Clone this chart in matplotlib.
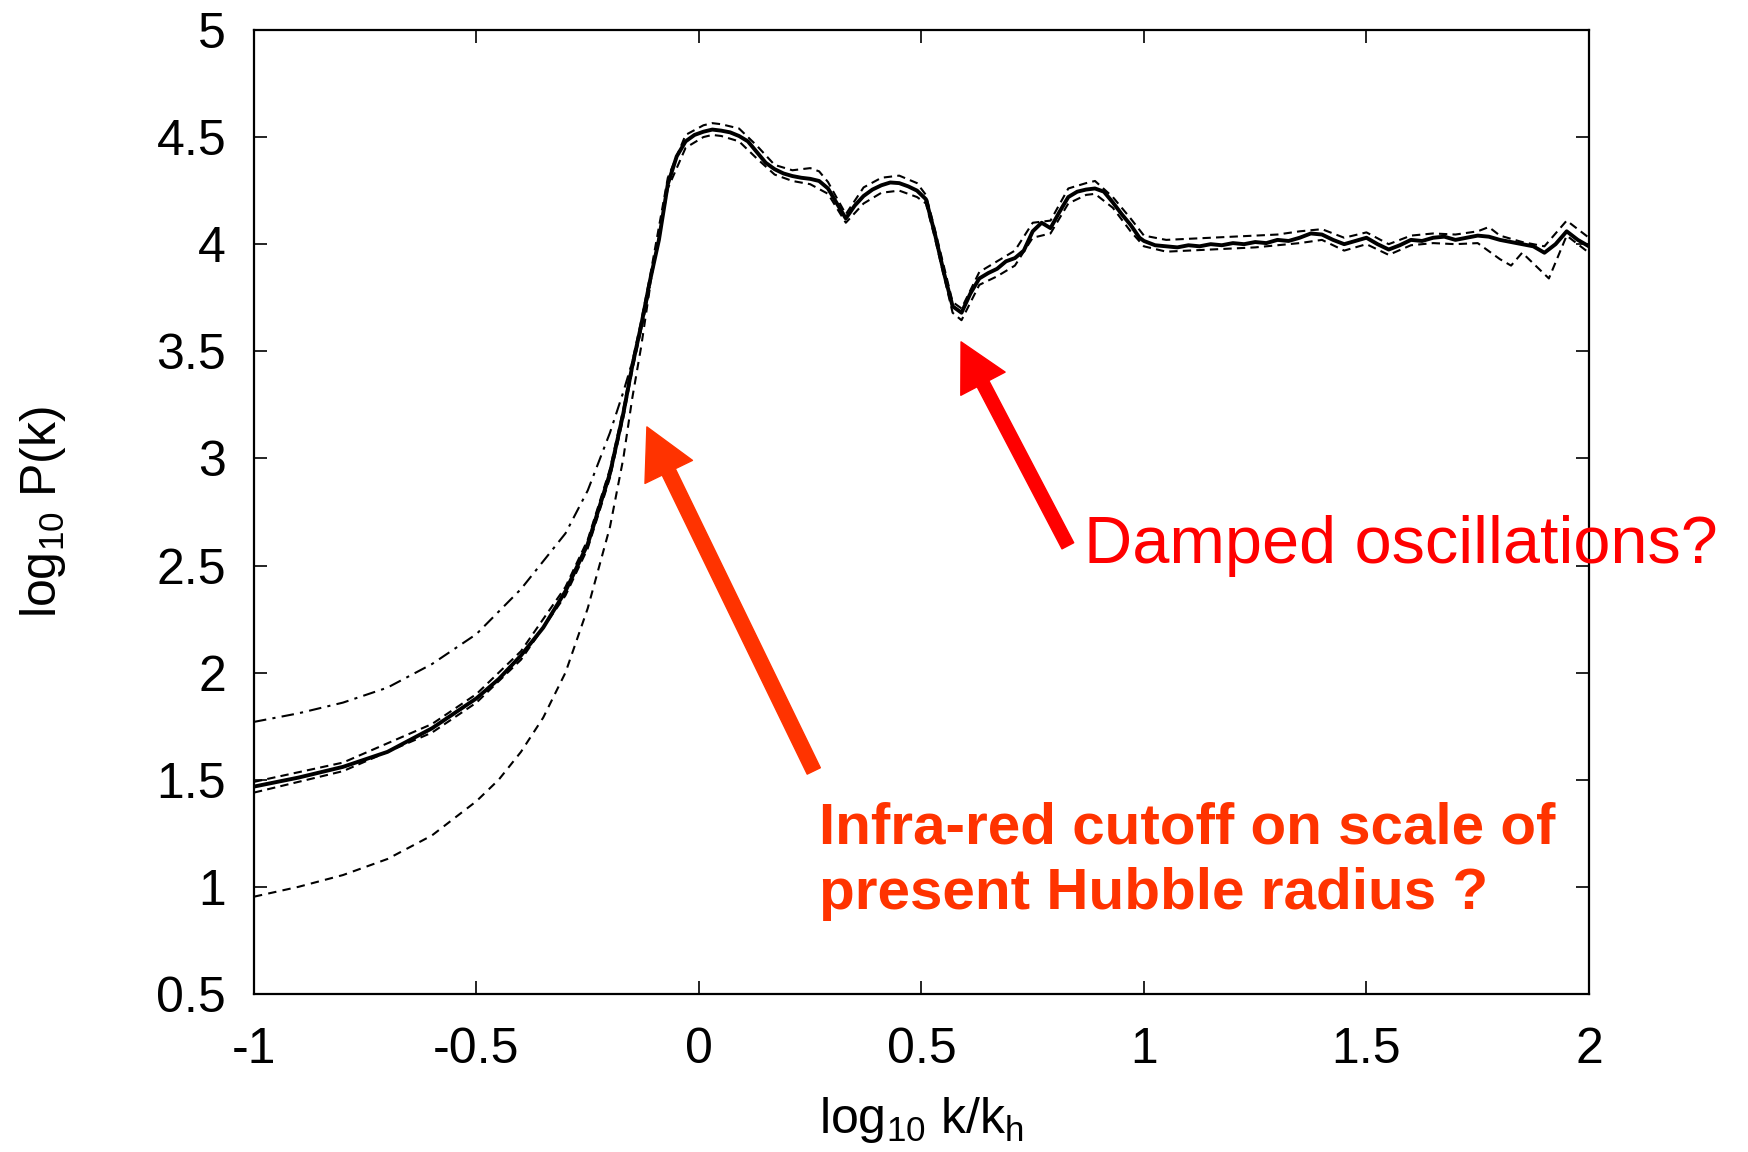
import matplotlib
matplotlib.use("Agg")
import matplotlib.pyplot as plt
from matplotlib.patches import FancyArrowPatch

plt.rcParams['font.family'] = ['Liberation Sans', 'DejaVu Sans']
plt.rcParams['mathtext.default'] = 'regular'

# ---------------- data ----------------
x_main = [-1.0, -0.9, -0.8, -0.7, -0.6, -0.5, -0.45, -0.4, -0.35, -0.3, -0.25, -0.2,
          -0.17, -0.15, -0.13, -0.11, -0.09, -0.07, -0.05, -0.03, -0.01,
          0.01, 0.03, 0.05, 0.07, 0.09, 0.11, 0.13, 0.15, 0.17, 0.19,
          0.21, 0.23, 0.25, 0.27, 0.29, 0.31, 0.33, 0.35, 0.37, 0.39,
          0.41, 0.43, 0.45, 0.47, 0.49, 0.51, 0.53, 0.55, 0.57, 0.59,
          0.61, 0.63, 0.65, 0.67, 0.69, 0.71, 0.73, 0.75, 0.77, 0.79,
          0.81, 0.83, 0.85, 0.87, 0.89, 0.91, 0.93, 0.95, 0.97, 0.99,
          1.0, 1.025, 1.05, 1.075, 1.1, 1.125, 1.15, 1.175, 1.2, 1.225,
          1.25, 1.275, 1.3, 1.325, 1.35, 1.375, 1.4, 1.425, 1.45, 1.475,
          1.5, 1.525, 1.55, 1.575, 1.6, 1.625, 1.65, 1.675, 1.7, 1.725,
          1.75, 1.775, 1.8, 1.825, 1.85, 1.875, 1.9, 1.925, 1.95, 1.975, 2.0]
y_main = [1.468, 1.51, 1.56, 1.63, 1.74, 1.88, 1.97, 2.08, 2.21, 2.38, 2.60, 2.93,
          3.21, 3.43, 3.62, 3.83, 4.02, 4.28, 4.41, 4.48, 4.51,
          4.525, 4.535, 4.53, 4.522, 4.505, 4.48, 4.43, 4.38, 4.35, 4.33,
          4.318, 4.31, 4.305, 4.295, 4.26, 4.19, 4.12, 4.18, 4.225, 4.255,
          4.275, 4.288, 4.285, 4.27, 4.25, 4.21, 4.05, 3.87, 3.71, 3.68,
          3.77, 3.84, 3.865, 3.885, 3.92, 3.935, 3.97, 4.06, 4.10, 4.075,
          4.15, 4.22, 4.245, 4.255, 4.26, 4.245, 4.195, 4.14, 4.09, 4.03,
          4.015, 3.995, 3.99, 3.985, 3.995, 3.99, 4.0, 3.995, 4.005, 4.0,
          4.01, 4.005, 4.02, 4.015, 4.03, 4.05, 4.045, 4.02, 4.0, 4.015,
          4.03, 4.0, 3.975, 3.995, 4.02, 4.015, 4.03, 4.035, 4.02, 4.03,
          4.04, 4.035, 4.02, 4.01, 4.0, 3.99, 3.96, 4.0, 4.06, 4.02, 3.99]

x_hi = [-1.0, -0.8, -0.6, -0.5, -0.4, -0.3, -0.25, -0.2, -0.17, -0.15, -0.13, -0.11, -0.07, -0.03,
        0.01, 0.03, 0.05, 0.09, 0.13, 0.17, 0.21, 0.25, 0.27, 0.29, 0.33, 0.37,
        0.41, 0.45, 0.49, 0.51, 0.53, 0.57, 0.59, 0.63, 0.67, 0.71, 0.75, 0.79,
        0.83, 0.87, 0.89, 0.93, 0.97, 1.0, 1.05, 1.1, 1.15, 1.2, 1.25, 1.3,
        1.35, 1.4, 1.45, 1.5, 1.55, 1.6, 1.65, 1.7, 1.75, 1.775, 1.8, 1.85,
        1.9, 1.95, 2.0]
y_hi = [1.49, 1.58, 1.76, 1.90, 2.10, 2.40, 2.62, 2.95, 3.23, 3.45, 3.64, 3.85, 4.31, 4.51,
        4.555, 4.565, 4.56, 4.54, 4.46, 4.37, 4.345, 4.355, 4.34, 4.29, 4.14, 4.265,
        4.31, 4.32, 4.285, 4.23, 4.07, 3.73, 3.70, 3.87, 3.92, 3.97, 4.10, 4.11,
        4.26, 4.285, 4.295, 4.22, 4.12, 4.04, 4.02, 4.025, 4.03, 4.035, 4.04, 4.045,
        4.06, 4.07, 4.03, 4.055, 4.0, 4.04, 4.05, 4.045, 4.06, 4.08, 4.04, 4.01,
        3.99, 4.11, 4.03]

x_lo = [-1.0, -0.8, -0.6, -0.5, -0.4, -0.3, -0.25, -0.2, -0.17, -0.15, -0.13, -0.11, -0.07, -0.03,
        0.01, 0.03, 0.05, 0.09, 0.13, 0.17, 0.21, 0.25, 0.29, 0.33, 0.37, 0.41,
        0.45, 0.49, 0.51, 0.53, 0.57, 0.59, 0.63, 0.67, 0.71, 0.75, 0.79, 0.83,
        0.87, 0.89, 0.93, 0.97, 1.0, 1.05, 1.1, 1.15, 1.2, 1.25, 1.3, 1.35,
        1.4, 1.45, 1.5, 1.55, 1.6, 1.65, 1.7, 1.75, 1.8, 1.825, 1.85, 1.9,
        1.91, 1.95, 2.0]
y_lo = [1.44, 1.54, 1.72, 1.86, 2.06, 2.36, 2.58, 2.91, 3.19, 3.41, 3.60, 3.81, 4.26, 4.45,
        4.50, 4.51, 4.505, 4.48, 4.40, 4.325, 4.295, 4.28, 4.235, 4.10, 4.19, 4.24,
        4.25, 4.22, 4.19, 4.03, 3.68, 3.645, 3.81, 3.85, 3.90, 4.03, 4.05, 4.19,
        4.23, 4.235, 4.17, 4.06, 3.99, 3.965, 3.97, 3.975, 3.98, 3.985, 3.995, 4.005,
        4.02, 3.97, 4.0, 3.95, 3.995, 4.005, 4.0, 4.005, 3.93, 3.90, 3.96, 3.86,
        3.84, 4.04, 3.96]

x_up = [-1.0, -0.9, -0.8, -0.7, -0.6, -0.5, -0.4, -0.35, -0.3, -0.25, -0.2, -0.17, -0.15, -0.13, -0.11]
y_up = [1.77, 1.81, 1.86, 1.93, 2.04, 2.18, 2.39, 2.52, 2.65, 2.85, 3.12, 3.31, 3.45, 3.60, 3.80]

x_down = [-1.0, -0.9, -0.8, -0.7, -0.6, -0.5, -0.45, -0.4, -0.35, -0.3, -0.25,
          -0.2, -0.17, -0.15, -0.13, -0.11]
y_down = [0.954, 1.00, 1.055, 1.13, 1.24, 1.40, 1.50, 1.63, 1.79, 2.00, 2.30,
          2.68, 3.00, 3.28, 3.52, 3.80]

x_ticks = [-1, -0.5, 0, 0.5, 1, 1.5, 2]
x_ticklabels = ['-1', '-0.5', '0', '0.5', '1', '1.5', '2']
y_ticks = [0.5, 1, 1.5, 2, 2.5, 3, 3.5, 4, 4.5, 5]
y_ticklabels = ['0.5', '1', '1.5', '2', '2.5', '3', '3.5', '4', '4.5', '5']

# ---------------- figure ----------------
fig = plt.figure(figsize=(17.48, 11.52), dpi=100)
ax = fig.add_axes([0.1453, 0.1372, 0.9090 - 0.1453, 0.9740 - 0.1372])

ax.plot(x_up, y_up, color='black', lw=1.5, linestyle=(0, (6, 3, 1.5, 3)))
ax.plot(x_down, y_down, color='black', lw=1.5, linestyle=(0, (4, 3)))
ax.plot(x_hi, y_hi, color='black', lw=1.5, linestyle=(0, (4, 2.5)))
ax.plot(x_lo, y_lo, color='black', lw=1.5, linestyle=(0, (4, 2.5)))
ax.plot(x_main, y_main, color='black', lw=2.8, solid_joinstyle='round')

ax.set_xlim(-1, 2)
ax.set_ylim(0.5, 5)
ax.set_xticks(x_ticks)
ax.set_xticklabels(x_ticklabels)
ax.set_yticks(y_ticks)
ax.set_yticklabels(y_ticklabels)
ax.tick_params(direction='in', length=9.5, width=1.2, top=True, right=True,
               labelsize=36, pad=20)
ax.tick_params(axis='x', pad=24)
for s in ax.spines.values():
    s.set_linewidth(1.6)

ax.set_xlabel(r'log$_{10}$ k/k$_{h}$', fontsize=36)
ax.xaxis.set_label_coords(0.5, -0.105)
ax.set_ylabel(r'log$_{10}$ P(k)', fontsize=36)
ax.yaxis.set_label_coords(-0.139, 0.5)

# ---------------- annotations ----------------
arr1 = FancyArrowPatch((0.258, 1.541), (-0.117, 3.147), transform=ax.transData,
                       arrowstyle='simple,head_length=36,head_width=38,tail_width=10.5',
                       mutation_scale=1, color='#FF3300', shrinkA=0, shrinkB=0,
                       clip_on=False, zorder=5)
ax.add_patch(arr1)
arr2 = FancyArrowPatch((0.829, 2.592), (0.589, 3.544), transform=ax.transData,
                       arrowstyle='simple,head_length=34,head_width=36,tail_width=9.5',
                       mutation_scale=1, color='#FF0000', shrinkA=0, shrinkB=0,
                       clip_on=False, zorder=5)
ax.add_patch(arr2)

fig.text(1084 / 1748, 1 - 563 / 1152, 'Damped oscillations?', color='#FF0000',
         fontsize=48, ha='left', va='baseline', zorder=10)
fig.text(819 / 1748, 1 - 844 / 1152, 'Infra-red cutoff on scale of', color='#FF3300',
         fontsize=42, fontweight='bold', ha='left', va='baseline', zorder=10)
fig.text(819 / 1748, 1 - 909 / 1152, 'present Hubble radius ?', color='#FF3300',
         fontsize=42, fontweight='bold', ha='left', va='baseline', zorder=10)

fig.savefig('out.png', dpi=100)
